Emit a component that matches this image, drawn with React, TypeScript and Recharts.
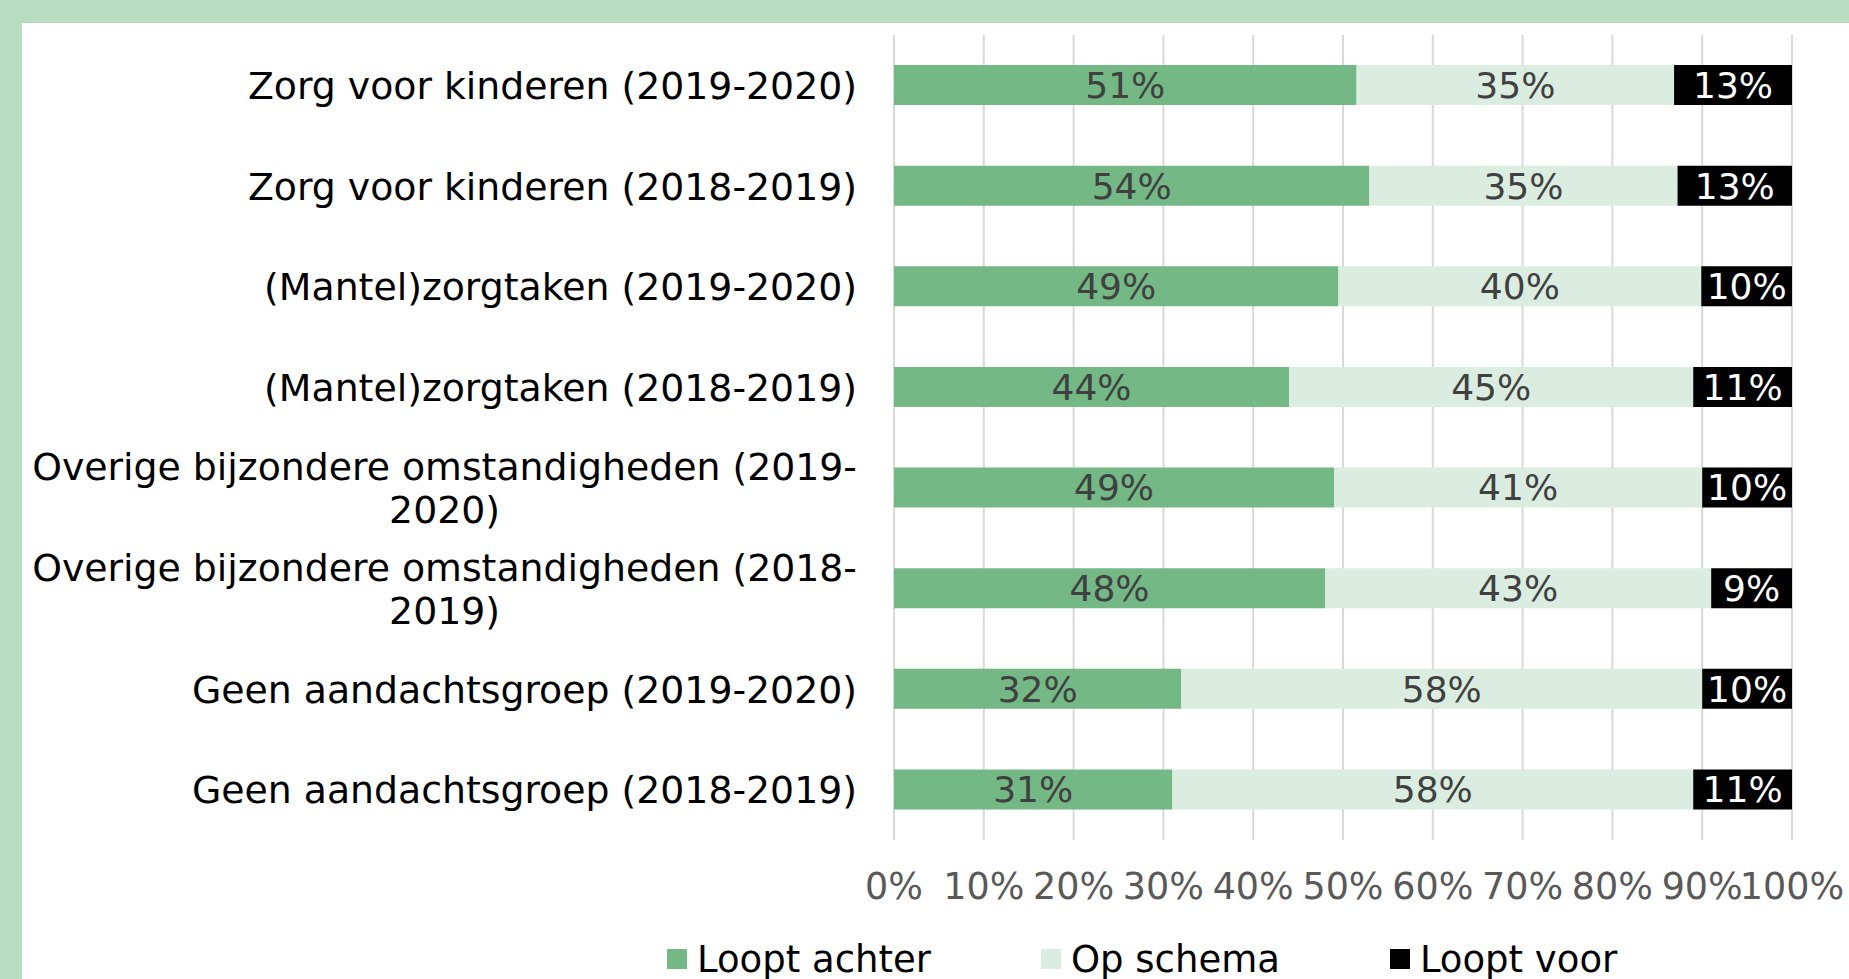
import React from "react";
import { BarChart, Bar, XAxis, YAxis, CartesianGrid, Legend, LabelList } from "recharts";

// categories top to bottom
const categories = [
  "Zorg voor kinderen (2019-2020)",
  "Zorg voor kinderen (2018-2019)",
  "(Mantel)zorgtaken (2019-2020)",
  "(Mantel)zorgtaken (2018-2019)",
  "Overige bijzondere omstandigheden (2019-2020)",
  "Overige bijzondere omstandigheden (2018-2019)",
  "Geen aandachtsgroep (2019-2020)",
  "Geen aandachtsgroep (2018-2019)",
];
const looptAchter = [51, 54, 49, 44, 49, 48, 32, 31];
const opSchema = [35, 35, 40, 45, 41, 43, 58, 58];
const looptVoor = [13, 13, 10, 11, 10, 9, 10, 11];

const seriesNames = ["Loopt achter", "Op schema", "Loopt voor"];
const seriesKeys = ["achter", "schema", "voor"];
const seriesColors = ["#73b885", "#dbece0", "#000000"];
const labelColors = ["#404040", "#404040", "#ffffff"];

const xTicks = [0, 0.1, 0.2, 0.3, 0.4, 0.5, 0.6, 0.7, 0.8, 0.9, 1];

const FONT = "'DejaVu Sans', Verdana, sans-serif";
const CAT_SIZE = 37.8;

const data = categories.map((name, i) => ({
  name,
  achter: looptAchter[i],
  schema: opSchema[i],
  voor: looptVoor[i],
}));

let ctx: CanvasRenderingContext2D | null = null;
function measure(text: string, size: number) {
  if (!ctx) ctx = document.createElement("canvas").getContext("2d");
  if (!ctx) return text.length * size * 0.6;
  ctx.font = `${size}px 'DejaVu Sans'`;
  return ctx.measureText(text).width;
}

// Excel-like wrapping: break after spaces and hyphens
function wrapLabel(label: string, size: number, maxWidth: number) {
  const parts = label.split(/(?<=[\s-])/);
  const lines: string[] = [];
  let cur = "";
  for (const p of parts) {
    const test = cur + p;
    if (cur && measure(test.trimEnd(), size) > maxWidth) {
      lines.push(cur.trimEnd());
      cur = p;
    } else {
      cur = test;
    }
  }
  if (cur) lines.push(cur.trimEnd());
  return lines;
}

function CategoryTick(props: any) {
  const { x, y, payload } = props;
  const lines = wrapLabel(String(payload.value), CAT_SIZE, 860);
  const block = Math.max(...lines.map((l) => measure(l, CAT_SIZE)));
  const cx = x - block / 2;
  const lh = 43;
  return (
    <g>
      {lines.map((l, i) => (
        <text
          key={i}
          x={cx}
          y={y + (i - (lines.length - 1) / 2) * lh}
          dy="0.36em"
          textAnchor="middle"
          fontFamily={FONT}
          fontSize={CAT_SIZE}
          fill="#000000"
        >
          {l}
        </text>
      ))}
    </g>
  );
}

function makeLabel(color: string) {
  return (props: any) => {
    const vb = props.viewBox ?? props;
    const { x, y, width, height } = vb;
    const v = props.value;
    if (v == null) return null;
    return (
      <text
        x={x + width / 2}
        y={y + height / 2}
        dy="0.36em"
        textAnchor="middle"
        fontFamily={FONT}
        fontSize={36}
        fill={color}
      >
        {`${v}%`}
      </text>
    );
  };
}

function LegendContent() {
  return (
    <div
      style={{
        height: 69,
        boxSizing: "border-box",
        paddingLeft: 645,
        paddingTop: 29,
        display: "flex",
        fontFamily: FONT,
        fontSize: 37,
        color: "#000000",
        lineHeight: "43px",
      }}
    >
      {seriesNames.map((n, i) => (
        <div key={n} style={{ display: "flex", alignItems: "center", marginRight: 110 }}>
          <span
            style={{
              display: "inline-block",
              width: 20,
              height: 20,
              background: seriesColors[i],
              marginRight: 10,
            }}
          />
          {n}
        </div>
      ))}
    </div>
  );
}

export default function App() {
  return (
    <div style={{ position: "relative", width: 1849, height: 979, background: "#b7dcc0", overflow: "hidden" }}>
      <style>{"body{margin:0}"}</style>
      <div style={{ position: "absolute", left: 22, top: 23, width: 1827, height: 956, background: "#ffffff" }}>
        <BarChart
          width={1827}
          height={956}
          data={data}
          layout="vertical"
          stackOffset="expand"
          margin={{ top: 12, right: 57, left: 0, bottom: 0 }}
        >
          <CartesianGrid horizontal={false} stroke="#d9d9d9" strokeWidth={2} />
          <XAxis
            type="number"
            domain={[0, 1]}
            ticks={xTicks}
            tickFormatter={(v: number) => `${Math.round(v * 100)}%`}
            tick={{ fontFamily: FONT, fontSize: 36.5, fill: "#595959" }}
            axisLine={false}
            tickLine={false}
            tickSize={0}
            tickMargin={33}
            height={70}
            interval={0}
          />
          <YAxis
            type="category"
            dataKey="name"
            width={872}
            axisLine={false}
            tickLine={false}
            tickSize={0}
            tickMargin={37}
            tick={<CategoryTick />}
            interval={0}
          />
          <Legend
            verticalAlign="bottom"
            content={<LegendContent />}
            wrapperStyle={{ left: 0, width: 1827, bottom: 0 }}
          />
          {seriesKeys.map((k, i) => (
            <Bar
              key={k}
              dataKey={k}
              name={seriesNames[i]}
              stackId="a"
              fill={seriesColors[i]}
              barSize={40}
              isAnimationActive={false}
            >
              <LabelList dataKey={k} content={makeLabel(labelColors[i])} />
            </Bar>
          ))}
        </BarChart>
      </div>
    </div>
  );
}
